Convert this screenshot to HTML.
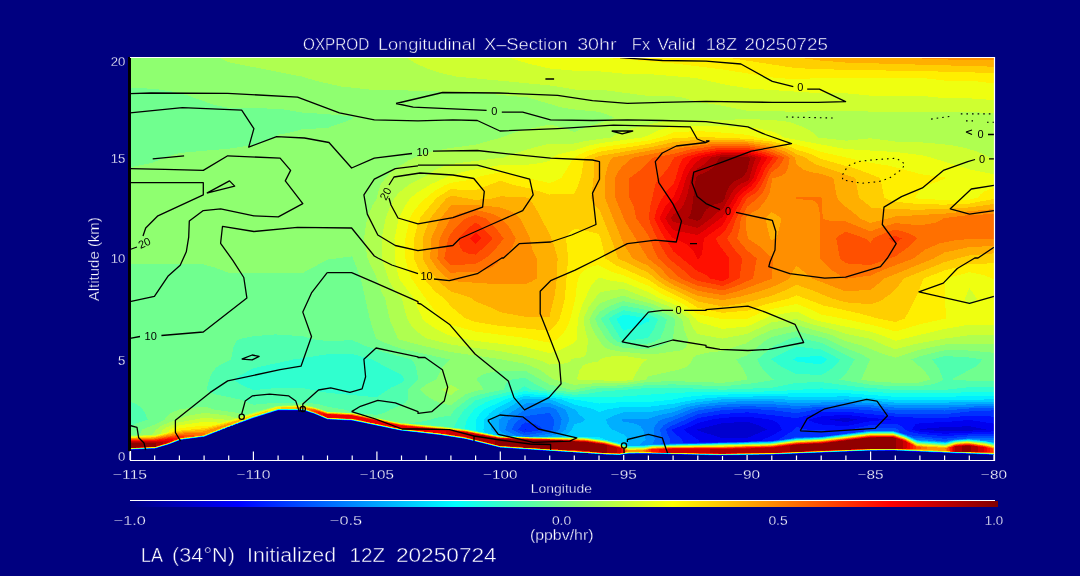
<!DOCTYPE html>
<html><head><meta charset="utf-8"><title>OXPROD Longitudinal X-Section</title>
<style>
html,body{margin:0;padding:0;background:#000080;}
body{width:1080px;height:576px;overflow:hidden;}
svg{display:block;}
text{fill:#fff;stroke:#000080;font-family:'Liberation Sans',sans-serif;}
.cl text{fill:#000;stroke:none;}
</style></head>
<body>
<svg width="1080" height="576" viewBox="0 0 1080 576">
<defs>
<clipPath id="pc"><rect x="130" y="57" width="864" height="403"/></clipPath>
<linearGradient id="cb" x1="0" x2="1" y1="0" y2="0"><stop offset="0" stop-color="#000080"/><stop offset="0.125" stop-color="#0000ff"/><stop offset="0.375" stop-color="#00ffff"/><stop offset="0.5" stop-color="#80ff80"/><stop offset="0.625" stop-color="#ffff00"/><stop offset="0.875" stop-color="#ff0000"/><stop offset="1" stop-color="#800000"/></linearGradient>
</defs>
<rect width="1080" height="576" fill="#000080"/>
<path d="M130.0 460V451.5M154.7 460V455.5M179.4 460V455.5M204.1 460V455.5M228.7 460V455.5M253.4 460V451.5M278.1 460V455.5M302.8 460V455.5M327.5 460V455.5M352.2 460V455.5M376.9 460V451.5M401.5 460V455.5M426.2 460V455.5M450.9 460V455.5M475.6 460V455.5M500.3 460V451.5M525.0 460V455.5M549.7 460V455.5M574.3 460V455.5M599.0 460V455.5M623.7 460V451.5M648.4 460V455.5M673.1 460V455.5M697.8 460V455.5M722.5 460V455.5M747.1 460V451.5M771.8 460V455.5M796.5 460V455.5M821.2 460V455.5M845.9 460V455.5M870.6 460V451.5M895.3 460V455.5M919.9 460V455.5M944.6 460V455.5M969.3 460V455.5M994.0 460V451.5" fill="none" stroke="#fff" stroke-width="1.2"/>
<g clip-path="url(#pc)" shape-rendering="crispEdges">
<path fill="#000090" d="M130.5 57.5 993.5 57.5 993.5 455.2 949.5 453.5 892.5 450.9 864.5 451.2 772.5 455 719.5 455.9 643.5 454 628.5 454.2 619.5 455.4 603.5 455 584.5 453.2 524.5 449.9 499.5 448 465.5 439.4 439.5 435.4 400.5 431 353.5 421.1 327.5 419.9 314.5 414.2 302.5 410.7 277.5 410.9 251.5 419.2 228.5 427.5 204.5 437.2 180.5 440.3 169.5 444.7 155.5 449 130.5 450.1Z"/>
<path fill="#0000b0" d="M130.5 57.5 993.5 57.5 993.5 455.1 950.5 453.5 892.5 450.8 864.5 451.1 771.5 455 719.5 455.8 643.5 453.9 628.5 454.1 619.5 455.3 604.5 454.9 584.5 453.2 525.5 449.8 499.5 447.9 465.5 439.3 439.5 435.3 400.5 430.9 353.5 421.1 327.5 419.8 314.5 414.2 302.5 410.6 277.5 410.7 251.5 419.1 228.5 427.4 204.5 437.1 180.5 440.3 168.5 444.9 155.5 448.9 130.5 450Z"/>
<path fill="#0000cf" d="M130.5 57.5 993.5 57.5 993.5 455 949.5 453.4 892.5 450.7 864.5 451 771.5 454.9 719.5 455.6 643.5 453.8 628.5 454 619.5 455.3 604.5 454.9 584.5 453.1 526.5 449.8 499.5 447.8 465.5 439.2 439.5 435.2 400.5 430.8 353.5 421 327.5 419.7 314.5 414.1 302.5 410.5 277.5 410.6 251.5 419 228.5 427.3 204.5 437 180.5 440.2 168.5 444.8 155.5 448.7 130.5 449.9ZM722.5 429.4 746.5 429.8Z"/>
<path fill="#0000ef" d="M130.5 57.5 993.5 57.5 993.5 454.9 949.5 453.3 892.5 450.6 864.5 451 771.5 454.8 719.5 455.5 643.5 453.7 628.5 453.9 619.5 455.2 526.5 449.7 499.5 447.7 465.5 439.1 439.5 435.1 400.5 430.7 352.5 420.8 327.5 419.5 314.5 414 302.5 410.4 277.5 410.5 253.5 418.2 228.5 427.2 204.5 436.9 180.5 440.1 168.5 444.7 154.5 448.8 130.5 449.8ZM733.5 422.5 722.5 423.1 697.1 429.5 698.5 430.9 721.5 437.8 730.5 438.1 747.5 437.9 767 429.5 758.5 425.4 747.5 421.6ZM839.5 418.5 829.9 419.5 838.5 421.3 847.5 421.8 857.2 419.5 846.5 418ZM961.5 426.5 944.5 427 920.5 429.1 919.7 429.5 920.5 429.7 944.5 431.2 969.5 430.8 985.8 429.5 969.5 426.2Z"/>
<path fill="#0010ff" d="M130.5 57.5 993.5 57.5 993.5 423.6 969.5 419.9 944.5 422.2 920.5 422.9 915.5 424.5 913.6 426.5 912.3 429.5 919.5 431.8 944.5 433.7 976.5 432.3 993.5 431.4 993.5 454.8 892.5 450.5 864.5 450.9 770.5 454.7 719.5 455.4 643.5 453.6 628.5 453.8 619.5 455.1 605.5 454.7 500.5 447.7 465.5 439.1 439.5 435.1 400.5 430.6 351.5 420.5 327.5 419.4 314.5 413.9 303.5 410.4 278.5 410.2 252.5 418.4 228.5 427.1 204.5 436.8 180.5 440 169.5 444.3 154.5 448.7 130.5 449.7ZM746.5 416.5 722.5 417.9 712.2 419.5 697.5 423.1 684.4 429.5 684.6 430.5 687.5 432.8 697.6 439.5 698.6 440.5 698.6 442.5 718.5 441.9 747.5 441.5 762 440.5 762.9 439.5 771.5 436 780.6 430.5 781.7 429.5 779.5 425.4 776.7 422.5 773 420.5 768.5 419.3ZM833.5 415.5 821.5 416.4 808.7 419.5 809.4 420.5 812.5 421.9 820.5 424.4 845.5 426.3 863.5 422.5 870.5 421.3 890.7 419.5 870.5 417.9 846.5 414.8Z"/>
<path fill="#0030ff" d="M130.5 57.5 993.5 57.5 993.5 416.6 969.5 415.6 944.5 417.9 919.5 417.8 894.5 416.6 845.5 411.6 821.5 412.2 796.5 418.1 747.5 412.3 722.5 414 697.5 418 683.5 425 672.5 429.4 672.4 430.5 673.5 432.3 682.3 439.5 682.8 442.5 706.5 442.8 741.5 441.9 773.5 440.6 778.7 439.5 793.4 430.5 796.5 426.7 803.5 429.1 814.5 430.3 845.5 430.9 870.5 424.8 895.5 423.8 901.5 425.9 905.1 429.5 908.5 431.5 919.5 433.8 944.5 436.2 967.6 434.5 993.5 433.5 993.5 454.7 892.5 450.4 864.5 450.8 771.5 454.6 719.5 455.4 643.5 453.5 628.5 453.7 619.5 455 605.5 454.6 500.5 447.7 465.5 439 439.5 435 400.5 430.5 352.1 420.5 327.5 419.4 314.5 413.8 303.5 410.3 278.5 410.1 252.5 418.3 228.5 427 204.5 436.7 180.5 439.9 169.5 444.2 154.5 448.6 130.5 449.6ZM524.5 429.2 524.5 429.7 526.5 429.6 525.5 428.9Z"/>
<path fill="#0050ff" d="M130.5 57.5 993.5 57.5 993.5 410.4 969.5 411.4 944.5 414.2 920.5 414.2 895.5 413.5 870.5 410.1 845.5 408.8 818.5 409.1 796.5 413.2 771.5 410.1 747.5 408.7 722.5 410.1 697.5 414.3 670.1 426.5 666.1 429.5 666.1 430.5 670 439.5 669.9 443.5 733.5 442.4 773.5 440.9 790.8 438.5 796.5 436.5 822.5 436.5 824.5 435.8 831.1 435.5 862.6 431.5 865.1 429.5 870.5 428.3 894.5 428 897.9 429.5 900.2 432.5 908.5 435.1 944.5 438.8 969.5 436.2 993.5 435.6 993.5 454.7 892.5 450.3 869.5 450.6 769.5 454.6 719.5 455.3 643.5 453.4 628.5 453.6 619.5 455 500.5 447.6 465.5 438.9 439.5 434.9 401.5 430.6 352.5 420.5 327.5 419.3 314.5 413.7 303.5 410.2 278.5 410 252.5 418.2 228.5 426.9 204.5 436.6 180.5 439.8 169.5 444.1 154.5 448.6 130.5 449.5ZM525.5 422.4 522.4 424.5 517.9 429.5 524.5 432.6 533.5 431.3 542.9 429.5 542.1 428.5 539.5 426.2 535.8 424.5Z"/>
<path fill="#0070ff" d="M130.5 57.5 993.5 57.5 993.5 407.8 968.5 408.5 944.5 410.5 895.5 410.3 870.5 407.5 846.5 406.5 820.5 406.8 796.5 408.9 771.5 407.1 747.5 406.2 722.5 407.3 703.8 409.5 697.5 410.6 688.5 414 668.5 422.4 663.5 425.5 659.9 429.5 662.4 439.5 661.4 443.5 679.5 443.9 724.5 442.9 771.5 441.4 796.5 437.8 822.5 436.8 870.5 430.7 894.5 430.8 914.5 438.1 920.5 437.9 933.4 439.5 935.8 440.5 944.5 441.1 959.5 438.7 993.5 437.7 993.5 454.6 892.5 450.3 869.5 450.5 772.5 454.4 720.5 455.2 643.5 453.3 628.5 453.5 619.5 454.9 605.5 454.5 500.5 447.5 465.5 438.8 439.5 434.8 400.5 430.4 352.5 420.4 327.5 419.2 314.5 413.7 303.5 410.1 278.5 409.9 252.5 418.1 228.5 426.8 204.5 436.5 180.5 439.8 169.5 444 155.5 448.3 130.5 449.4ZM546.5 413.3 525.5 416.1 518.5 420.2 514.5 424.5 511.7 429.5 520.5 433.9 525.5 435.2 549.5 431.2 553.2 429.5 554 419.5 549.5 412.5Z"/>
<path fill="#008fff" d="M130.5 57.5 993.5 57.5 993.5 405.7 944.5 407.7 895.5 407.7 870.5 405.2 846.5 404.1 796.5 406 771.5 404.2 747.5 403.7 722.5 404.7 698.5 407.4 690.2 409.5 673.5 416.3 661.8 419.5 658.5 421.5 655.5 425.1 653.6 429.5 654.7 439.5 653 443.5 673.5 444.1 717.5 443.3 771.5 441.7 796.5 438.2 822.5 437.1 869.5 431.1 892.5 430.9 904.5 434.6 916.5 439.7 945.5 441.8 953.5 440 967.5 438.8 993.5 440.3 993.5 454.5 892.5 450.2 869.5 450.4 772.5 454.3 720.5 455.1 643.5 453.3 628.5 453.4 619.5 454.8 605.5 454.4 500.5 447.4 465.5 438.8 439.5 434.8 400.5 430.3 352.5 420.3 327.5 419.1 314.5 413.6 303.5 410 278.5 409.8 252.5 418 228.5 426.7 204.3 436.5 180.5 439.7 169.5 444 155.5 448.2 130.5 449.4ZM541.5 407.4 524.5 410.1 508.4 420.5 505.4 429.5 506.4 430.5 516.5 435.5 525.5 436.6 532.7 436.5 549.5 433.8 555.5 431.7 559.4 429.5 561.7 419.5 556.5 409.6 549.5 406.8Z"/>
<path fill="#00afff" d="M130.5 57.5 993.5 57.5 993.5 403.6 944.5 405.2 895.5 405.2 870.5 402.9 846.5 401.8 796.5 403.2 771.5 401.3 747.5 401.1 722.5 402 698.5 404.7 686.5 407.4 673.5 412.1 659.5 415.1 648.5 418.6 624.5 418.6 621.5 419.5 623.5 421.7 632.5 423.1 637.2 424.5 640.5 426.5 642.3 428.5 644.2 432.5 645.7 439.5 640 444.5 643.5 444.9 682.5 444.3 771.5 441.9 796.5 438.5 821.5 437.4 870.5 431.4 892.5 431.2 904.5 434.9 917.5 440.4 945.5 442.2 954.5 440.2 968.5 439.1 993.5 442.2 993.5 454.4 892.5 450.1 869.5 450.3 772.5 454.3 720.5 455.1 643.5 453.2 628.5 453.3 619.5 454.7 605.5 454.3 500.5 447.3 465.5 438.7 439.5 434.7 400.5 430.2 352.5 420.2 327.5 419.1 314.5 413.5 303.5 409.9 278.5 409.7 252.5 417.9 204 436.5 180.5 439.6 169.5 443.9 155.5 448.2 130.5 449.3ZM525.5 403.5 499.2 419.5 499 429.5 502.5 432.7 507.2 435.5 524.5 436.7 542.5 436.6 548.2 436.5 555.5 434.8 561.5 432.4 565.6 429.5 569.4 419.5 566.1 410.5 565.5 409.5 562.5 408.1 549.5 403.1Z"/>
<path fill="#00cfff" d="M130.5 57.5 993.5 57.5 993.5 401.5 944.5 402.6 895.5 402.6 870.5 400.5 846.5 399.4 821.5 400.4 797.5 400.3 771.5 398.6 747.5 398.6 722.5 399.4 697.5 402.1 684.5 404.6 672.5 408.1 648.5 412.3 623.5 412.4 613.9 415.5 605.9 419.5 607.7 424.5 611.5 429.2 623.5 434.4 630 439.5 624.8 444.5 628.5 445.6 643.5 445.7 652.5 444.7 668.5 444.7 771.5 442.2 796.5 438.8 821.5 437.7 869.5 431.8 892.5 431.5 904.5 435.2 917.5 440.9 945.5 442.6 955.5 440.3 968.5 439.4 984.5 441 993.5 442.7 993.5 454.3 892.5 450 869.5 450.3 772.5 454.2 720.5 455 643.5 453.1 628.5 453.2 619.5 454.7 605.5 454.2 500.5 447.3 465.5 438.6 439.5 434.6 400.5 430.2 352.5 420.2 327.5 419 314.5 413.4 303.5 409.9 278.5 409.6 252.5 417.8 203.6 436.5 180.5 439.5 169.5 443.8 155.5 448.1 130.5 449.2ZM522.5 399.3 500.5 412.2 491.4 419.5 491.2 429.5 491.8 430.5 496 434.5 499.5 435.5 524.5 436.8 554.5 436.6 561.6 436.5 566.4 434.5 571.2 430.5 574.5 424.4 581.5 422.2 585.5 419.5 580.3 415.5 574.9 409.5 553.2 400.5 549.5 399.4 525.5 398.6Z"/>
<path fill="#00efff" d="M130.5 57.5 993.5 57.5 993.5 399.2 969.5 400 895.5 400.1 845.5 396.2 820.5 397.1 771.5 396.2 722.5 397 698.5 399.1 672.5 403.9 648.5 406.8 621.5 407.1 606.6 409.5 599.5 412.2 592.5 408.9 574.5 404.6 561.9 399.5 549.5 397.5 524.5 396.2 513.3 399.5 494.6 409.5 489.5 413.5 483.7 419.5 483.5 429.5 484.3 431.5 484.8 432.5 487.5 432.7 488.3 433.5 499.5 435.7 524.5 436.9 543.5 437 584.5 436.5 598.5 437 605.2 439.5 607.5 439.6 608.4 440.5 611.5 440.7 612.4 441.5 619.5 442.9 627.5 445.8 643.5 446.1 652.5 445 722.5 444 771.5 442.5 796.5 439.1 821.5 438 869.5 432 892.5 431.8 904.5 435.5 917.5 441.3 945.5 443 955.5 440.6 968.5 439.7 984.5 441.3 993.5 443.1 993.5 454.2 892.5 450 869.5 450.2 772.5 454.1 720.5 454.9 643.5 453 628.5 453.1 619.5 454.6 605.5 454.2 500.5 447.2 465.5 438.5 439.5 434.5 400.5 430.1 352.5 420.1 327.5 418.9 314.5 413.3 303.5 409.8 278.5 409.5 252.5 417.7 228.5 426.5 204.5 436.2 180.5 439.4 169.5 443.7 155.5 448 130.5 449.2Z"/>
<path fill="#10ffef" d="M130.5 57.5 993.5 57.5 993.5 395.5 944.5 396.8 895.5 396.8 845.5 393.1 746.5 393.8 697.5 395.7 683.5 397.4 672.5 399.7 648.5 402 623.5 402 599.5 403.5 551.5 395.9 524.5 393.7 504.8 399.5 484.3 409.5 479.5 414.5 475.9 419.5 475.8 430.5 478.1 431.5 499.5 435.8 524.5 437 544.5 437.2 585.5 437.1 606.5 440.1 628.5 446.4 643.5 446.4 652.5 445.2 722.5 444.2 771.5 442.7 796.5 439.3 821.5 438.2 869.5 432.3 892.5 432.1 904.5 435.8 917.5 441.7 945.5 443.4 955.5 440.9 968.5 440 984.5 441.7 993.5 443.5 993.5 454.1 892.5 449.9 869.5 450.1 772.5 454 720.5 454.8 643.5 452.9 628.5 453 619.5 454.5 605.5 454.1 500.5 447.1 465.5 438.5 439.5 434.4 400.5 430 352.5 420 327.5 418.8 314.5 413.2 303.5 409.7 278.5 409.4 252.5 417.6 228.5 426.4 204.5 436.1 180.5 439.3 169.5 443.7 155.5 447.9 130.5 449.1Z"/>
<path fill="#30ffcf" d="M130.5 57.5 993.5 57.5 993.5 391.8 969.5 392.1 944.5 393.3 895.5 393.3 821.5 388.4 772.5 391.4 677.5 392.6 623.5 396.5 574.5 397.2 554.5 394.3 524.5 391.1 512.5 393.8 492.9 399.5 485.5 402.5 478.5 406.3 474.1 409.5 466.9 419.5 464.5 428.5 499.5 436 535.5 437.2 584.5 437.5 605.5 440.2 628.5 446.7 643.5 446.7 652.5 445.5 771.5 443 796.5 439.6 821.5 438.5 869.5 432.6 892.5 432.3 904.5 436.1 917.5 442 945.5 443.8 955.5 441.2 968.5 440.3 984.5 442 993.5 443.9 993.5 454.1 892.5 449.8 869.5 450 772.5 454 720.5 454.8 643.5 452.8 628.5 452.9 619.5 454.4 605.5 454 500.5 447.1 465.5 438.4 439.5 434.4 400.5 429.9 352.5 419.9 327.5 418.7 314.5 413.2 303.5 409.6 278.5 409.3 252.5 417.5 228.5 426.3 204.5 436 180.5 439.3 169.5 443.6 155.5 447.9 130.5 449ZM622.5 315.2 616.9 318.5 616.6 319.5 623.5 330.8 639.5 325.6 648.5 321.5 649.6 319.5 648.9 318.5 624.5 314.7ZM809.5 356.5 796.5 357.4 793.1 359.5 796.5 361.4 811.5 363.4 821.5 364.2 827.3 359.5 821.5 356.1Z"/>
<path fill="#50ffaf" d="M130.5 57.5 993.5 57.5 993.5 387.1 969.5 387.1 944.5 389.9 895.5 389.9 861.5 387.3 820.5 382.1 796.5 382.8 771.5 387.8 722.5 389.7 673.5 387.7 648.5 387.9 599.5 391.7 589.3 393.5 574.5 394.8 530.9 389.5 524.5 386.3 519.1 389.5 485.5 397.3 475.5 400.5 464.5 409.5 457.8 419.5 453.7 427.5 465.5 429.1 499.5 436.1 515.5 436.9 585.5 437.8 605.5 440.6 619.5 444.1 628.5 447.1 643.5 447.1 652.5 445.8 771.5 443.3 796.5 439.9 821.5 438.8 869.5 432.9 892.5 432.6 904.5 436.3 917.5 442.4 945.5 444.2 955.5 441.5 968.5 440.5 984.5 442.4 993.5 444.3 993.5 454 892.5 449.8 869.5 450 772.5 453.9 720.5 454.7 643.5 452.7 628.5 452.9 619.5 454.4 605.5 454 500.5 447 465.5 438.3 439.5 434.3 400.5 429.8 352.5 419.9 327.5 418.7 314.5 413.1 303.5 409.5 278.5 409.2 252.5 417.4 228.5 426.2 204.5 435.9 180.5 439.2 169.5 443.5 155.5 447.8 130.5 448.9ZM326.5 354.4 293.4 359.5 253.5 368.2 233 379.5 243.5 386.1 253.5 390.1 278.5 387.8 302.5 388.1 314.8 390.5 327.5 392.8 376.5 397.3 391.5 387.5 401.5 382.8 404.4 379.5 401.5 374.9 371.8 359.5 352.5 354.1ZM623.5 310.2 613.5 315.3 609.1 318.5 608.9 319.5 620.6 338.5 624.5 340.5 642.5 338.9 648.5 337.3 653.6 329.5 658.2 319.5 657.5 318.5 648.5 314.4ZM796.5 346.4 772.5 358.3 771.3 359.5 782.5 367.4 796.5 374 814.5 374.7 821.5 374.8 826.5 372.2 834.3 366.5 840.2 359.5 821.5 349.5Z"/>
<path fill="#70ff8f" d="M130.5 57.5 993.5 57.5 993.5 380.8 969.5 380.8 952.6 379.5 953.4 378.5 975.5 366.7 979.2 363.5 982.2 359.5 969.5 357.5 944.5 356 932.2 359.5 938.8 368.5 943.3 379.5 938.5 382.4 932.5 384.3 919.5 386.2 894.5 386.3 870.5 384.7 839.5 379.5 846.5 372.8 854.6 359.5 821.5 342.9 796.5 337.1 787.8 339.5 772.5 346.9 757.2 359.5 760.5 365.8 764.5 371.4 769.5 376.4 773.9 379.5 767.5 381 753.5 383.3 722.5 386.3 673.5 384.4 648.5 384.9 623.5 387.5 598.5 388.1 574.5 392.3 546.3 389.5 537.5 385.3 524.5 377.7 511.7 379.5 509.6 380.5 506.3 383.5 503.7 389.5 478.5 394.8 471 397.5 467.6 399.5 454.8 409.5 450.7 415.5 438.5 417.4 426.5 420.7 409.4 423.5 418.5 423.6 420.1 424.5 428.5 424.7 431.1 425.5 448.5 426.9 469.5 430.2 500.5 436.4 525.5 437.4 585.5 438 605.5 440.8 619.5 444.3 628.5 447.5 643.5 447.4 652.5 446 771.5 443.5 796.5 440.2 821.5 439.1 869.5 433.2 892.5 432.9 904.5 436.6 917.5 442.8 945.5 444.6 955.5 441.8 968.5 440.8 984.5 442.7 993.5 444.7 993.5 453.9 892.5 449.7 869.5 449.9 772.5 453.8 720.5 454.6 643.5 452.6 628.5 452.8 619.5 454.3 605.5 453.9 500.5 446.9 465.5 438.2 439.5 434.2 400.5 429.8 352.5 419.8 327.5 418.6 314.5 413 303.5 409.4 278.5 409.1 252.5 417.3 204.5 435.8 180.5 439.1 169.5 443.4 155.5 447.7 130.5 448.9 130.5 426.6 137.5 422.9 147.6 419.5 144.9 412.5 141.5 407.9 137 404.5 130.5 401.8ZM275.5 334.4 253.5 336.2 241.7 338.5 237.5 340.3 235.5 342.7 233.7 346.5 230.9 359.5 219.5 365 215.5 368.3 212.3 372.5 209.1 379.5 206.7 389.5 207.5 390.4 210.5 392.6 214.5 394.2 240.2 399.5 253.5 404.8 263.5 403.6 304.5 402.4 319.5 404.3 327.5 406.8 344.4 409.5 350.5 412 361.5 413.7 377.5 414.8 385.2 412.5 390.2 409.5 402.5 404.5 405.6 402.5 408 399.5 408.3 389.5 418.4 379.5 416.1 367.5 413.8 362.5 411.5 359.5 382.5 351.8 364.5 345.7 352.5 340.2 327.5 341.1 314.9 339.5 302.5 336.2ZM621.5 306.3 610.3 311.5 601.2 318.5 601.1 319.5 613.3 338.5 617.3 341.5 623.5 344.3 646.5 343.8 653.5 342.1 660.2 338.5 664 329.5 666.9 319.5 663.5 317.2 648.5 310.4 624.5 305.8Z"/>
<path fill="#8fff70" d="M130.5 57.5 993.5 57.5 993.5 352.7 968.5 350.5 944.5 350.3 936.5 352 919.5 356.4 911.4 359.5 923.1 369.5 927.5 374.7 930.3 379.5 919.5 382.5 895.5 382.8 870.5 381.2 861.3 379.5 870.1 359.5 869 358.5 859.9 353.5 845.5 348 826 338.5 796.5 331.1 771.5 337.1 766.8 339.5 747.5 355.2 736.1 359.5 742 367.5 746.5 376.2 747.3 379.5 735.5 381.3 722.5 382.8 673.5 381.1 648.5 381.9 623.5 385.4 595.5 385.9 585.5 387.3 574.5 389.9 569.8 389.5 549.5 384.5 525.5 370.9 497.5 370.9 484.5 373.8 480.5 375.8 477.2 378.5 476.5 379.5 480.5 384.5 483.1 389.5 472.5 391.8 465.5 394.4 450.5 405.3 441.5 403.3 434.5 400.6 425.5 395.3 420.2 389.5 426.5 384 436 379.5 442.4 367.5 449.6 359.5 401.5 348.7 385.5 343.1 375.9 338.5 369.9 319.5 360.8 278.5 352.5 257.2 351.5 256.4 327.5 259.6 302.5 273.1 229.5 273.1 214.6 267.5 203.5 264.4 130.5 264.4 130.5 167.2 151.5 162.9 169.5 156 179.5 153 229.9 148.5 253.5 145 266.5 140.9 278.5 134.7 291.5 132.2 302.5 129.2 327.5 127.9 351.5 119.4 353.5 117.5 351.5 116.7 336.5 114.9 302.5 112.5 278.5 108.7 228.5 107.9 213.5 104.7 187.9 95.5 173.5 91.8 154.5 88.8 130.5 87.8ZM622.5 301.4 609.5 305.9 599.5 312.1 595 318.5 597.5 325.1 606.6 339.5 609.8 342.5 614.5 345.2 623.5 348.1 647.5 349 654.5 347.8 662.1 345.5 667.5 343 672.3 339.5 673.9 332.5 675.1 319.5 673.5 317.9 667 314.5 648.5 306.5 624.5 301.3ZM282.4 405.5 304.5 404.8 314.5 406.8 327.5 411.7 353.5 412.9 399.5 422.7 437.5 426.1 462.5 429.2 499.9 436.5 525.5 437.5 585.5 438.3 605.5 441.1 619.5 444.6 628.5 447.9 643.5 447.7 652.5 446.3 771.5 443.8 796.5 440.5 821.5 439.3 869.5 433.4 892.5 433.2 904.5 436.9 917.5 443.2 945.5 445 955.5 442.1 967.5 441.1 985.5 443.2 993.5 445.1 993.5 453.8 892.5 449.6 869.5 449.8 813.5 452.1 771.5 453.8 720.5 454.5 628.5 452.7 619.5 454.2 604.5 453.8 500.5 446.8 465.5 438.2 439.5 434.1 400.5 429.7 352.5 419.7 327.5 418.5 314.5 412.9 303.5 409.2 278.5 409 252.5 417.2 203.5 436 180.5 439 169.5 443.3 155.5 447.6 130.5 448.8 130.5 435.5 139.7 434.5 142.4 429.5 154.5 424.6 164.7 419.5 167.5 415.8 170.5 413.3 179.5 409.2 204.5 406.6 214.5 409.5 236.5 412.8 243.5 415.2 275.5 406Z"/>
<path fill="#afff50" d="M218.3 57.5 993.5 57.5 993.5 344.3 969.5 343.5 944.5 344.5 918.5 350 895.5 357.7 881.5 353.4 861.5 345.4 845.5 341.1 829.5 334.2 796.5 325.1 771.5 329.7 753.1 338.5 746.5 343.2 732.5 347.7 722.5 351 707.5 352.7 696.5 355.3 693.5 357.5 689.4 364.5 685.3 367.5 679.5 369.4 648.5 376.3 645.7 379.5 623.5 383.2 598.5 383 574.5 384.8 553.8 379.5 539.2 369.5 525.5 363.8 496 358.5 450.5 352 420.5 345.2 399.3 339.5 397.5 337.5 390 320.5 385.1 298.5 381.4 291.5 376.5 277.6 367.6 258.5 364 238.5 366.4 222.5 369.5 212 372.5 205.5 376.5 199.3 378.8 189.5 381.1 183.5 389.5 173.4 395.3 168.5 408.5 160.5 421.5 154.8 432.5 151.4 446.5 148.6 475.5 144.6 501.5 137.5 516.5 131.8 549.5 124.5 562.6 127.5 574.5 132.2 585.5 127.2 598.5 123.4 614.5 117.5 599.5 111.8 573.5 109.4 562.5 107.7 527.7 97.5 475.5 92.6 401.5 90.3 376.5 90.3 341.5 86.5 317.5 81.2 301.6 76.5 229.5 62.4ZM620.5 296.3 606.5 300.7 599.5 303.8 593.5 310.9 589.2 319.5 591.8 327.5 595.3 334.5 602.5 345.3 605.5 347.7 609.6 349.5 619.5 351.5 648.5 354.3 656.5 353.8 680 350.5 683.5 349.3 685.7 347.5 687.1 344.5 688.1 339.5 684.5 330.8 682.2 319.5 672.5 312.6 652.5 304 631.4 298.5 623.5 295.6ZM449.5 385.5 451.5 384.9 458.7 389.5 454.5 391.8 450.6 395.5 441.5 389.5ZM292.7 405.5 303.5 405.2 313.5 407.2 327.5 411.9 352.5 413 399.5 422.9 444.5 427.2 465.5 429.9 499.5 436.6 525.5 437.7 585.5 438.5 605.5 441.3 619.5 444.8 628.5 448.2 643.5 448 652.5 446.5 771.5 444.1 796.5 440.7 821.5 439.6 869.5 433.7 892.5 433.5 904.5 437.2 917.5 443.6 945.5 445.4 955.5 442.4 967.5 441.4 985.5 443.5 993.5 445.4 993.5 453.7 892.5 449.5 869.5 449.8 805.5 452.4 771.5 453.7 720.5 454.5 643.5 452.4 628.5 452.6 619.5 454.1 604.5 453.7 500.5 446.8 465.5 438.1 439.5 434.1 400.5 429.6 352.5 419.6 327.5 418.4 314.5 412.8 302.5 409 277.5 409 249.5 418.1 204.5 435.6 180.5 438.9 169.5 443.3 155.5 447.6 130.5 448.7 130.5 435.9 152.2 434.5 156.2 429.5 162.5 425.1 186.5 416 204.5 412.8 228.5 415.7 234.5 417.6 237.5 417.6 277.5 406.1Z"/>
<path fill="#cfff30" d="M406.3 57.5 993.5 57.5 993.5 112.7 992.5 112.7 919.5 111.6 870.5 111.6 845.5 110.7 821.5 110.7 796.5 112.1 771.5 110.8 747.5 110.8 722.5 105.7 700.5 102.4 681.8 97.5 673.5 96.2 648.5 96 599.5 89.5 574.5 89.5 550.5 85.5 455.9 76.5 440.5 72.9 427 68.5 415.9 63.5ZM734.7 119.5 747.5 119.1 771.5 119.9 789.5 121.9 805.5 127.9 812.5 132.2 818.4 137.5 821.5 137.9 846.5 140.7 870.5 138.3 895.5 141.5 925.5 142.6 951.5 145.2 962.5 147.3 975.5 151 983.5 154.1 989.6 157.5 993.5 158.5 993.5 335.2 969.5 335.2 944.5 338.6 916.5 343.7 895.5 349.3 884.5 345.3 870.5 338.8 846.5 334.1 835.5 330.2 813.5 324.6 796.5 319.1 771.5 322.3 747.5 333.8 722.5 338.6 697.5 334.1 693.3 328.5 688.6 318.5 681.5 313.4 668.5 306.2 637.8 294.5 623.5 288.9 606.5 290.9 600.2 292.5 598.5 293.7 588.5 307.5 583.6 318.5 585 329.5 587.9 339.5 587.2 349.5 586 354.5 584.5 356.3 582.5 357.3 574.5 358.4 571.5 359.5 569.5 361.9 565.5 363.4 549.5 364.5 540.5 360.5 524.5 355.8 500.5 351.3 451.5 344.7 426.7 338.5 416.5 331.4 412 326.5 408.5 321.2 405.9 314.5 401.9 298.5 394.9 290.5 389.4 281.5 381.7 258.5 381.7 238.5 385.7 218.5 389.5 207.9 394 198.5 399.5 192.1 409.5 184.3 423.5 177.5 436.5 169 450.5 164 503.6 157.5 525.5 149.9 549.5 143.5 574.5 143.5 586.5 140.8 610.7 137.5 621.5 131.8 629.5 128.9 665.5 120.8 673.5 119.8ZM611.3 356.5 624.5 355.9 646.7 359.5 642.5 363.2 639.1 367.5 632.8 379.5 623.5 381 613.5 380.8 582.5 379.8 578.1 379.5 577.2 378.5 579.5 369.9 583.5 365.2 589.5 362.9 598.5 361.5 600.5 359.3 603.5 357.8ZM277.7 406.5 303.5 405.6 314.5 407.8 327.5 412.1 352.5 413.3 401.5 423.5 439.5 426.9 465.5 430.1 500.5 436.9 585.5 438.7 605.5 441.6 619.5 445.1 628.5 448.6 643.5 448.4 652.5 446.8 771.5 444.4 796.5 441 821.5 439.9 869.5 434 892.5 433.7 904.5 437.5 917.5 444 945.5 445.8 955.5 442.7 967.5 441.7 985.5 443.9 993.5 445.8 993.5 453.6 892.5 449.5 869.5 449.7 824.5 451.5 772.5 453.6 720.5 454.4 673.5 453.6 643.5 452.3 628.5 452.5 619.5 454.1 604.5 453.6 500.5 446.7 465.5 438 439.5 434 400.5 429.5 352.5 419.5 327.5 418.4 314.5 412.7 303.5 409 278.5 408.8 249.5 418 203.5 435.8 180.5 438.8 169.5 443.2 155.5 447.5 130.5 448.6 130.5 436.4 157.3 434.5 160.7 433.5 163 429.5 165.5 427.9 178.5 422.5 204.5 417.7 227.5 419.8 231.5 419.6Z"/>
<path fill="#efff10" d="M508.8 57.5 993.5 57.5 993.5 100.1 969.5 98.3 944.5 98.2 919.5 95.6 870.5 95.6 845.5 93.3 820.5 93.3 749.5 88.5 726.5 84.9 697.5 78.5 690 77.5 648.5 74 623.5 73.6 599.5 71.4 574.5 70.7 549.8 68.5 527.8 63.5ZM691.3 125.5 746.5 127 757.9 128.5 772.5 131.6 778.5 134.2 783.8 137.5 845.5 149 895.5 152 920.5 155 930.7 157.5 969.5 169.3 993.5 174.2 993.5 324.7 968.5 324.8 943.5 329.1 895.5 340.9 882.3 335.5 870.5 331.7 819.5 321.2 811.5 318.5 796.5 311.5 771.5 315.5 747.5 326.4 722.5 328.9 698.5 322.1 695.7 318.5 690.7 314.5 676.5 305.4 659.5 298.2 648.5 292.2 624.5 282.6 609.5 280.4 599.5 277.7 595.5 280.3 590.7 286.5 581.1 307.5 578 318.5 576.6 339.5 573.5 343.2 561.5 349.2 549.5 353.2 524.5 346.8 475.5 340.8 452.5 336.6 444.5 333.4 434.5 328.1 426.5 322.7 422.5 318.5 418.1 309.5 413.8 298.5 399 278.5 394.5 258.5 394.5 238.5 398.6 218.5 404.6 206.5 410 198.5 417.5 192.4 431.5 183.9 451.5 175.1 469.2 170.5 499.5 165.2 525.5 164.9 542.5 162.8 549.5 160.7 552.1 157.5 558.5 154.4 574.5 150.5 588.8 145.5 599.5 143.3 641.7 137.5 648.5 135.2 659.5 130 672.5 126.2ZM969.5 288.4 964.6 298.5 966.5 301.8 969.5 305.1 971.5 303.8 975.5 300.6 976.9 298.5ZM286.6 406.5 303.5 406 314.5 408 327.5 412.4 352.5 413.6 400.5 423.6 439.5 427.1 465.5 430.2 500.5 437 585.5 439 605.5 441.8 619.5 445.4 628.5 449 643.5 448.7 652.5 447.1 771.5 444.6 796.5 441.3 821.5 440.1 869.5 434.3 892.5 434 904.5 437.8 917.5 444.4 945.5 446.2 955.5 443 967.5 442 985.5 444.2 993.5 446.2 993.5 453.5 892.5 449.4 869.5 449.6 816.5 451.8 771.5 453.6 720.5 454.3 629.5 452.3 619.5 454 604.5 453.5 500.5 446.6 465.5 437.9 439.5 433.9 400.8 429.5 352.5 419.5 327.5 418.3 314.5 412.7 303.5 408.9 278.5 408.7 251.5 417.1 204.3 435.5 180.5 438.8 169.5 443.1 155.1 447.5 130.5 448.6 130.5 436.8 155.5 435.5 166.8 432.5 168.7 431.5 169.8 429.5 179.5 425.2 203.5 421.9 221.5 422.7 240.5 418 277.5 406.9Z"/>
<path fill="#ffef00" d="M600.3 57.5 993.5 57.5 993.5 83.3 991.5 83.1 969.5 80.5 944.5 80.5 919.5 77.6 821.5 77.6 796.5 79.5 771.5 77.4 722.5 69.4 673.5 63.4ZM688.7 131.5 698.5 131.1 731.5 133.2 747.5 134.9 757.5 137.5 778.5 139.8 809.5 147.9 821.5 152 870.5 162.9 889.5 165.7 920.5 174.1 944.6 177.5 945.3 178.5 944.5 179.1 931.5 183.6 920.5 189.3 915.1 197.5 917.9 198.5 944.5 200.1 969.5 199.7 978.4 197.5 980.5 194.5 984 191.5 993.5 187.8 993.5 279.2 984.5 275.3 969.5 272.2 946 278.5 945.4 279.5 945.1 298.5 946 318.5 920.5 324.1 895.5 331.5 876.5 326 845.5 319.1 821.5 314.6 809.5 308.9 796.5 303.9 771.5 309.1 759.5 313.4 746.5 319.1 722.5 319.3 703.5 315.3 697.5 313.9 683.5 304.2 660.5 293.2 648.5 285.9 623.5 275.4 610.5 271.3 598.5 265 591.5 266.7 586.5 268.8 582.5 271.8 579 276.5 577 283.5 575.2 299.5 569.5 321.5 566.9 327.5 563.9 332.5 560.4 336.5 556.5 339.5 549.5 342.7 524.5 337.8 475.5 331.6 451.5 324.9 440.8 318.5 426.5 299.8 411.4 278.5 408.1 269.5 405.4 258.5 405.4 238.5 409.9 217.5 415.7 208.5 423 200.5 433.7 191.5 444.5 185.4 450.5 182.9 465.9 180.5 482.5 175.9 500.5 172.1 514.7 174.5 525.5 177.7 549.5 183 556.5 180.5 561.6 177.5 573.3 158.5 579.5 154.5 587.5 151 599.5 147.5 648.5 140.4 660.5 137.5 673.5 132.4ZM299.8 406.5 303.5 406.5 314.5 408.3 327.5 412.6 352.5 413.8 400.5 423.8 465.5 430.4 499.5 437 585.5 439.2 605.5 442.1 619.5 445.6 628.5 449.3 643.5 449 652.5 447.3 771.5 444.9 796.5 441.6 821.5 440.4 869.5 434.5 892.5 434.3 904.5 438.1 917.5 444.8 945.5 446.6 955.5 443.3 967.5 442.3 985.2 444.5 993.5 446.6 993.5 453.4 892.5 449.3 869.5 449.5 804.5 452.2 771.5 453.5 720.5 454.2 628.5 452.1 619.5 453.9 605.1 453.5 500.5 446.5 465.5 437.8 439.5 433.8 401.3 429.5 352.5 419.4 327.5 418.2 313.5 412.2 303.5 408.8 278.5 408.6 275.5 409 251.5 416.9 204 435.5 180.5 438.7 169.5 443 154.7 447.5 130.5 448.5 130.5 437.2 155.5 436.1 173.3 431.5 179.5 428.2 203.5 425.6 209.5 425.9 215.5 425 239.5 418.8 277.5 407.3Z"/>
<path fill="#ffcf00" d="M726.5 57.5 993.5 57.5 993.5 73 919.5 71 845.5 69.9 796.5 68.2ZM687.7 137.5 697.5 136.8 747.5 138.8 771.5 141.4 784.5 144.5 796.5 149.6 811.5 154.3 821.5 159.1 856.5 168.9 879.1 177.5 880.2 178.5 881.1 181.5 884.3 197.5 887.8 199.5 895.5 201.7 919.5 204.2 944.5 204.6 969.5 203.6 993.5 199 993.5 263.4 969.5 263.8 944.5 270.5 923.6 278.5 918.1 292.5 905 318.5 895.5 321.9 878.1 318.5 858.5 313.2 823.5 305.5 796.5 295.3 788.7 298.5 763.5 305 747.5 310.6 722.5 312.8 697.5 307.6 685.5 300.1 659.9 287.5 648.5 279.7 616.5 265.5 605.4 258.5 600.8 238.5 598.5 233.8 587.5 231 574.5 228.8 569.5 232.7 566 238.5 568.2 258.5 564.7 299.5 559.5 319.3 555.9 324.5 551.5 329.3 549.5 330.9 500.5 326 475.5 321.9 465.6 318.5 451.5 307 445.5 299.5 435.1 291.5 427.1 282.5 419.5 271.2 414 258.5 414 238.5 417.7 224.5 420.5 217.2 436.9 197.5 450.5 189.3 475.5 190.1 500.5 180.7 510.5 184.2 530.5 188.7 549.5 194.5 573.5 193.5 574.5 193.1 575.4 191.5 579.2 182.5 581.4 174.5 584.2 158.5 586.5 156.6 599.5 151.7 648.5 144 673.5 138.2ZM280.7 407.5 302.5 406.9 306.5 407.3 315.5 408.8 327.5 412.8 352.5 414 400.5 424 465.5 430.6 500.5 437.3 585.5 439.5 605.5 442.3 619.5 445.9 628.5 449.7 643.5 449.3 651.5 447.7 660.5 447.3 720.5 446.6 771.5 445.2 796.5 441.9 821.5 440.7 870.5 434.8 893.5 434.7 905.5 438.8 917.5 445.2 945.5 447 955.5 443.6 967.5 442.6 988.5 445.7 993.5 447 993.5 453.3 892.5 449.3 869.5 449.5 772.5 453.4 720.5 454.2 657.5 452.9 643.5 451.9 628.5 451.9 619.5 453.8 605.5 453.4 500.5 446.5 462.5 437.3 439.5 433.7 401.8 429.5 352.5 419.3 327.5 418.1 304.5 408.8 280.7 408.5ZM272.5 409.5 272.6 409.5ZM268.4 410.5 271.5 410.5 269.5 410.5 265.6 412.5 263.5 412.6 262.3 413.5 253.5 415.9 203.6 435.5 180.5 438.6 169.5 443 155.5 447.3 134.5 448.3 130.5 448.4 130.5 437.7 154.5 436.8 179.5 430.7 206.5 428 236.5 420.3 265.5 411.4 267.5 411.3Z"/>
<path fill="#ffaf00" d="M797.7 57.5 993.5 57.5 993.5 66.7 846.5 62.6 820.5 60.5ZM689.8 140.5 722.5 139.8 747.5 140.6 769.5 143.6 783.5 147.5 790.5 150.5 796.5 154.3 805.5 157.5 810.7 161.5 816.5 164.7 854.3 177.5 855.4 178.5 858.9 197.5 871.5 207.6 883.5 208.8 916.5 209.7 944.5 209.1 969.5 207.4 993.5 204 993.5 253.4 969.5 255.4 962.5 257.1 944.5 262.1 906.2 277.5 903.8 278.5 897.5 286.9 890.9 293.5 882.7 299.5 877.5 302.1 870.5 304.2 845.5 302.3 832 298.5 811.5 290 796.5 284.8 783.5 291.1 770.5 296.1 746.5 302.5 722.5 306.5 697.5 301.3 665.4 285.5 656.1 279.5 648.5 272.8 618.2 258.5 611.1 238.5 599.5 210 594.2 204.5 591 198.5 593.5 178.5 594.6 158.5 595.2 157.5 599.5 155.9 648.5 147.6 673.5 142.2ZM451.2 195.5 475.5 199.9 491.7 198.5 500.5 196.4 524.5 197 528.7 198.5 534.5 205.9 549.9 234.5 554.5 247.1 557.6 258.5 556.9 278.5 554.8 294.5 549.5 316.7 534.5 316.7 524.5 316.6 500.5 312.3 488.5 306.5 475.5 301.4 471.7 298.5 467.5 296.5 450.5 291.3 440.5 283.1 429.5 270.7 422.6 258.5 422.8 237.5 429.9 218.5 446.2 198.5ZM296.3 407.5 303.5 407.3 314.5 408.9 327.5 413 352.5 414.2 400.5 424.2 465.5 430.8 500.5 437.4 585.5 439.7 605.5 442.6 619.5 446.1 628.5 450 643.5 449.7 652.5 447.8 668.5 447.3 720.5 446.9 771.5 445.4 796.5 442.2 821.5 441 870.5 435 893.5 435 905.5 439.1 917.5 445.6 930.5 446.8 945.5 447.4 955.5 443.9 967.5 442.9 988.5 446 993.5 447.4 993.5 453.1 955.5 452.1 942.5 450.8 892.5 449.2 869.5 449.4 772.5 453.3 720.5 454.1 652.5 452.6 643.5 451.8 628.5 451.7 619.5 453.8 604.5 453.3 500.5 446.4 463.5 437.3 436.5 433.3 399.5 429 352.5 419.2 327.5 418 304.5 408.7 296.3 408.5ZM244.4 418.5 246.7 418.5 245.5 418.5 244.6 419.5 242.5 419.6 236.5 422.5 231.5 423.9 203.1 435.5 181.5 438.2 169.5 442.9 155.5 447.2 133.5 448.2 130.5 448.3 130.5 438.1 154.5 437.4 179.5 431.7 203.5 429.8 218.5 426.1Z"/>
<path fill="#ff8f00" d="M896.6 57.5 993.5 57.5 993.5 60.4 968.5 60.3ZM701.2 142.5 722.5 141.7 747.5 142.4 770.5 146.3 785.1 151.5 794.8 157.5 796.5 164.1 802.5 169.2 810.5 172.1 821.5 173.9 832.1 177.5 833.4 178.5 837 197.5 839.5 201.4 843.5 205.3 852.1 211.5 860.2 218.5 870.5 223 895.5 216.5 944.5 213.6 993.5 209.1 993.5 246 969.5 247 944.5 252.5 933.6 258.5 884.5 278.5 873.9 287.5 870.5 289.8 845.5 291.4 812.2 278.5 796.5 265.7 792.7 271.5 789.5 278.5 778.1 284.5 769.5 288.1 754.5 292.8 739.5 296.8 722.5 300.2 697.5 295.8 673.5 285.1 662.6 278.5 648.5 265.8 632.6 258.5 623.5 243.6 605.1 198.5 605 177.5 607.2 167.5 610.5 159.5 613 157.5 675.5 145.7ZM771.5 212.3 765.4 218.5 770 238.5 771.5 239.7 774.5 239.2 776.3 238.5 776.9 237.5 781.5 218.5 773.5 212.9ZM451 205.5 475.5 205 498.5 207.1 510.5 211 515.5 214 519.5 217.5 530 238.5 532.6 250.5 536.7 258.5 536.7 278.5 531.8 281.5 525.5 284.2 516.5 284.4 500.5 284.4 451.5 281.1 442.7 274.5 436.9 268.5 430.2 258.5 431.1 238.5 440.2 218.5ZM304.7 408.5 307.5 408.2 314.5 409.2 327.5 413.2 352.5 414.4 401.5 424.6 465.5 431 500.5 437.6 585.5 440 605.5 442.8 619.5 446.4 628.5 450.4 643.5 450.1 652.5 448.1 673.5 447.3 720.5 447.1 771.5 445.7 796.5 442.4 821.5 441.3 870.5 435.3 893.5 435.3 905.5 439.4 916.5 445.7 928.5 447.1 945.5 447.9 955.5 444.2 967.5 443.2 987.5 446.1 993.5 447.8 993.5 452.9 955.5 452.1 944.5 450.7 892.5 449.1 869.5 449.3 776.5 453.1 720.5 454 652.5 452.6 643.5 451.6 628.5 451.5 619.5 453.7 604.5 453.2 499.5 446.1 463.5 437.2 437.5 433.3 399.5 428.9 352.5 419.1 327.5 418ZM231.4 423.5 231.5 423.5ZM227.3 424.5 230.5 423.9 230.5 424.5 228.5 424.6 225.6 426.5 223.5 426.7 220.6 428.5 218.5 428.8 215.7 430.5 202.4 435.5 180.5 438.3 169.5 442.8 155.5 447.1 134.5 448.1 130.5 448.2 130.5 438.5 154.5 437.9 179.5 432.7 203.5 431.5Z"/>
<path fill="#ff7000" d="M708.4 144.5 722.5 143.7 746.5 144.2 754.5 145.3 766.5 147.8 775.5 150.6 785.5 155.2 789.2 157.5 789.5 158.5 788.1 167.5 785.5 173 781.5 175.9 772.5 178.5 769.3 193.5 764.4 202.5 757.5 209.6 747.5 215.4 745.7 218.5 746.5 231.1 748 238.5 760.5 247.1 772.7 258.5 772.3 278.5 739.5 290.8 724.5 294.8 721.5 295 697.5 290.8 670.3 278.5 659.7 267.5 648 258.5 625.1 221.5 615.2 197.5 615.4 177.5 618.5 171.5 622.2 166.5 631.6 158.5 633.7 157.5 685.5 147.3ZM795.7 197.5 796.5 196.9 820.5 196.9 821.6 198.5 822.6 215.5 823.5 218.5 824.5 219.4 830.5 220.8 845.5 221.3 870.5 231.4 882.5 226.8 895.5 223.1 920.5 225.3 934.5 223 939.5 221 942.9 218.5 948.7 217.5 969.5 215 993.5 214.1 993.5 238.6 973.5 238.6 954.1 240.5 939.5 243.5 925.5 249.5 913.5 258.5 884 269.5 870.5 275.6 845.5 278.8 832.4 270.5 820.4 258.5 820.1 217.5 819.2 208.5 817.5 203.8 815.5 201.8 812.6 200.5 796.5 198.9ZM472 210.5 475.5 210 486.5 212.2 493.7 214.5 499.7 217.5 504.4 221.5 508.8 226.5 515.8 238.5 512.2 247.5 506.9 254.5 500.5 259 496.8 263.5 492.9 266.5 487.5 269.1 479.5 271.4 475.5 272.2 450.5 272.6 443.5 266.3 437.3 258.5 439.7 238.5 450.4 218.5 453.5 216.1 458.5 213.7ZM307.7 409.5 314.5 409.4 327.5 413.5 352.5 414.7 401.5 424.8 465.5 431.1 500.5 437.7 585.5 440.2 604.5 442.9 619.5 446.6 627 450.5 627 451.5 625.5 452.4 619.5 453.6 604.5 453.1 499.5 446.1 463.5 437.1 437.5 433.1 399.5 428.9 352.5 419 327.5 417.9ZM183.6 433.5 201.5 433.1 204.8 433.5 204.8 434.5 202.5 434.6 201.7 435.5 180.5 438 163.8 444.5 155.5 447 150.5 447.3 130.5 448.2 130.5 439 154.5 438.5ZM881.1 435.5 893.5 435.6 905.5 439.7 916.5 446.1 927.2 447.5 927.2 449.5 870.5 449.2 776.5 453 720.5 453.9 691.5 453.4 653.2 452.5 643.5 451.5 643.5 450.5 652.5 448.3 771.5 446 796.5 442.7 821.5 441.5 869.5 435.7ZM955.8 444.5 968.5 443.5 984.5 445.7 990.5 447.3 993.5 448.2 993.5 452.8 984.5 452.8 954.5 451.9 945.5 450.5 945.5 448.5Z"/>
<path fill="#ff5000" d="M711.4 146.5 722.5 145.6 747.5 146 760.5 148.6 771.5 151.8 781.5 156.3 783.7 157.5 783.8 158.5 779.5 166.3 771.5 172.3 770.7 173.5 768.5 177.5 765.5 187.5 762.7 192.5 752.5 202.5 747.5 206.3 740.9 218.5 739.5 229.5 737.2 238.5 746.5 249.9 756.8 258.5 753.1 278.5 735.5 286.4 722.5 290.5 697.5 285.7 680.7 278.5 658.4 258.5 653.9 249.5 648.5 235.5 636.4 218.5 633.5 206.2 629 197.5 629 178.5 641.5 169.2 651.6 158.5 653.7 157.5 672.5 154.1 690.4 149.5ZM473.8 215.5 476.5 215.3 485.7 218.5 495.3 227.5 503.8 238.5 495.5 249 487.5 256.7 479.5 262 475.5 263.8 473.5 263.9 451.5 265.5 449.5 264.2 444.3 258.5 448.2 238.5 451.5 232.7 457.8 225.5 465.5 218.5ZM895 229.5 908.5 233.1 913.5 235.6 917.1 238.5 910.5 245.1 903.5 250.8 895.5 256.2 870.5 265.1 848.5 263.6 845.5 263 840 258.5 836.2 238.5 839.5 235.3 844.2 232.5 846.5 232 865.4 238.5 870.5 242.7 873.2 238.5 874.9 237.5 884.5 233.2ZM310.7 409.5 315.5 410 327.5 413.7 352.5 414.9 400.5 424.9 465.5 431.3 499.5 437.7 585.5 440.5 604.5 443.1 619.5 446.9 625.1 449.5 625.8 451.5 625 452.5 619.5 453.5 602.5 452.9 499.5 446 464.5 437.2 438.5 433.1 399.5 428.8 353.5 419 327.5 417.8 314.5 411.7 312.7 411.5 310.7 410.5ZM186.5 434.5 194.2 434.5 193.6 436.5 180.5 437.8 169.9 442.5 155.5 447 137.5 447.9 130.5 448.1 130.5 439.4 154.5 439.1 179.5 434.8ZM864.9 436.5 870.5 435.9 893.5 435.8 905.5 440 917.5 447.1 920.9 447.5 920.9 449.5 869.5 449.1 777.5 452.9 703.5 453.6 655.9 452.5 646.4 451.5 646.4 450.5 648.3 449.5 652.5 448.7 673.5 447.8 720.5 447.7 771.5 446.2 796.5 443 821.5 441.8ZM959.3 444.5 968.5 443.8 984.5 446 993.2 448.5 993.5 452.6 982.5 452.6 950.1 451.5 947.4 450.5 947.4 448.5 948.3 447.5 954.5 445.1Z"/>
<path fill="#ff3000" d="M722.2 147.5 748.5 148 768.5 153.3 778.1 157.5 778.1 158.5 769.1 169.5 761.9 184.5 758.7 189.5 754.5 193.6 746.7 198.5 736 218.5 731.7 231.5 726.9 238.5 734.5 249.4 742.3 258.5 739.5 278.5 726.5 284.5 722.5 285.9 720.5 285.5 698.5 281 692.6 278.5 684.5 271.2 668.7 258.5 662.5 248.8 654.3 232.5 650.5 223.6 648.8 217.5 650.6 204.5 655.4 184.5 657.5 180.5 667.8 168.5 674.2 157.5 684.5 154 695.5 151.4ZM475.1 222.5 476.5 222.8 483.4 228.5 492.5 238.5 485.2 246.5 476.5 253.9 475.5 254.6 468.5 253.7 462.5 251.2 459.8 246.5 458.6 238.5 465.7 230.5ZM893.1 236.5 895.5 235.7 901.7 238.5 896.9 242.5 895.5 243.5 894.5 243.3 888.8 238.5ZM313.7 410.5 316.3 410.5 327.5 413.9 352.5 415.1 401.5 425.2 465.5 431.5 499.5 437.9 585.5 440.7 604.5 443.4 619.5 447.1 624.5 449.5 624.5 452.5 619.5 453.4 602.5 452.9 499.5 445.9 464.5 437 438.5 433 399.5 428.7 353.5 418.9 327.5 417.7 313.7 411.5ZM174.6 436.5 182.5 436 184.3 436.5 184.3 437.5 180.5 437.6 169.5 442.6 155.5 446.9 139.5 447.7 130.5 448 130.5 439.8 154.5 439.6ZM867.2 436.5 893.5 436.1 904.5 439.9 912.6 444.5 915.6 446.5 915.9 449.5 869.5 449 777.5 452.8 720.5 453.8 700.5 453.4 658.4 452.5 648.9 451.5 649.4 449.5 652.5 449 673.5 448 720.5 447.9 771.5 446.5 796.5 443.3 821.5 442.1ZM962.8 444.5 969.5 444.3 984.5 446.4 992 448.5 993 449.5 993 452.5 980.5 452.4 954.5 451.8 951.1 451.5 948.8 450.5 949.5 447.4 955.5 445.1Z"/>
<path fill="#ff1000" d="M721.5 149.5 747.5 149.6 761.5 153.3 772.6 157.5 772.4 158.5 765.5 168.2 759.7 180.5 756.5 185.5 752.9 189.5 746.1 194.5 742.3 198.5 725.8 229.5 722.5 233.5 715.7 238.5 718.9 244.5 729.5 258.5 728.5 278.5 722.5 281.2 719.5 280.6 710.3 278.5 705.4 274.5 697.5 271.2 673.5 251.5 660.5 231.4 654.3 218.5 656.3 210.5 659.6 202.5 666.4 191.5 673.5 184.1 675.7 178.5 678.9 166.5 682.7 158.5 686.5 156.7 699.5 153.2ZM474.6 233.5 475.5 232.7 476.5 233.4 481.5 238.5 476.2 243.5 475.5 244 474.5 243.3 469.7 238.5ZM317.9 411.5 326.5 414 352.5 415.3 401.5 425.4 464 431.5 499.5 438 585.5 441 604.5 443.6 619.5 447.4 623.3 449.5 623.3 452.5 619.5 453.1 602.5 452.8 584.5 451.1 499.5 445.8 465.5 437 439.5 432.9 399.5 428.6 354.5 418.9 327.5 417.6 318.5 413.5ZM869.5 436.5 893.5 436.4 904.5 440.2 911.9 444.5 912.9 445.5 912.9 449.5 869.5 448.9 777.5 452.7 720.5 453.7 697.5 453.1 661 452.5 651.4 451.5 651.5 449.5 673.5 448.2 720.5 448.2 771.5 446.8 796.5 443.6 821.5 442.4ZM174 437.5 177.6 437.5 177.6 438.5 176.6 439.5 169.5 442.5 155.5 446.8 134.5 447.8 130.5 447.9 130.5 440.3 154.5 440.2ZM966.3 444.5 983.1 446.5 990.1 448.5 990.1 452.5 975.5 452 954.5 451.7 952 451.5 950.2 450.5 950.2 447.5 954.5 445.7Z"/>
<path fill="#ef0000" d="M721 151.5 747.5 151.5 762.5 155.8 766.8 157.5 766.8 158.5 761.9 166.5 755.5 180.8 750.7 186.5 743.1 192.5 738.5 197.5 722.5 225.1 703.8 238.5 702.9 248.5 701.6 254.5 699.2 258.5 697.5 258.6 693.5 251 688.5 245.7 682.5 242 672.5 238 664.5 227.2 659.9 218.5 660 217.5 665.3 206.5 673.5 196.9 677.7 187.5 683.7 170.5 687 164.5 690.5 160 692.5 158.2 695.5 157 707.5 153.9ZM322.9 413.5 334.5 414.9 352.3 415.5 401.5 426 462.3 431.5 500.5 438.3 549.8 439.5 585.5 441.2 604.5 443.8 618.9 447.5 621.5 448.5 622 452.5 602.5 452.7 584.5 451 499.5 445.8 465.5 436.8 441.5 433.5 440.5 432.8 433.5 432.5 431.5 431.7 424.5 431.5 422.5 430.7 399.5 428.6 398.5 427.8 394.5 427.5 393.5 426.7 375.5 423.6 374.5 422.8 370.5 422.5 369.5 421.7 365.8 421.5 354.5 418.7 343.5 417.7 327.5 417.6 322.9 415.5ZM863.5 437.5 870.5 436.7 893.5 436.7 904.4 440.5 909.6 443.5 909.9 449.5 901.5 448.8 868.5 448.8 777.5 452.7 720.5 453.6 708.5 453.2 663.5 452.5 659.1 451.5 659.1 449.5 673.5 448.4 720.5 448.4 771.5 447.1 796.5 443.9 821.5 442.6ZM164.8 439.5 172.5 438.9 173.4 439.5 173.4 440.5 156.4 446.5 138.5 447.6 130.5 447.8 130.5 440.7 154.5 440.8ZM958.1 445.5 968.5 444.7 985.5 447.3 987.3 448.5 987.3 452.5 982.5 452 952.9 451.5 951.6 450.5 951.6 447.5 954.5 446Z"/>
<path fill="#cf0000" d="M720.7 153.5 747.5 153.3 761 157.5 761.2 158.5 756.9 167.5 753.7 177.5 751.7 180.5 747.5 184.9 741.5 188.7 736.6 193.5 722.5 216.9 702.5 231.9 697.5 234.9 673.5 230.3 667.7 222.5 665.4 218.5 665.6 217.5 670.4 209.5 679.4 198.5 682.7 189.5 686.1 177.5 689.5 170.9 693.4 165.5 697.5 161.4 702.8 157.5ZM445.6 430.5 451.5 430.5 452.5 431.2 467.5 432.4 500.5 438.4 585.5 441.4 604.5 444.1 617.9 447.5 620.7 448.5 620.8 452.5 602.5 452.7 585.5 450.9 524.5 447.6 499.5 445.7 471.1 438.5 470.5 437.9 467.2 437.5 466.5 436.8 455.2 435.5 453.5 434.6 448.5 434.5 447.5 433.5 445.6 433.5ZM865.8 437.5 893.5 437 905.8 441.5 906.9 442.5 906.5 448.5 862.5 448.9 777.5 452.6 720.5 453.6 710.5 453 668.3 452.5 668.3 449.5 673.5 448.9 720.5 448.9 771.5 447.3 796.5 444.1 821.5 442.9ZM162.3 440.5 168.9 440.5 168.5 442.5 166.5 442.6 165.7 443.5 163.5 443.7 156.1 446.5 137.5 447.6 130.5 447.7 130.5 441.1 154.5 441.4ZM961.6 445.5 968.5 445 983.9 447.5 983.9 451.5 975.5 451.7 953.8 451.5 953 450.5 953 447.5 953.9 446.5Z"/>
<path fill="#b00000" d="M720.4 155.5 746.5 155 755.3 157.5 755.6 158.5 752.7 166.5 749.4 178.5 747.5 180.7 740.5 183.9 735.5 187.8 731.9 192.5 722.5 209.4 715.8 213.5 710.8 218.5 703.5 224 697.5 227.8 673.5 221.9 670.9 218.5 671.2 217.5 673.5 214.4 680.1 209.5 683.7 204.5 687.1 195.5 691.1 177.5 695.5 170.8 697.5 168.5 705.2 163.5 711.5 157.5ZM473.9 434.5 477.8 434.5 479.5 435.3 483.5 435.5 484.5 436.2 502.5 438.9 558.5 440.2 589.5 442.2 604.5 444.3 616.5 447.5 616.5 452.5 602.5 452.6 586.5 450.8 541.5 448.6 499.5 445.6 490.5 442.8 487.2 442.5 486.5 441.7 483.3 441.5 482.5 440.7 479.4 440.5 478.5 439.6 475.5 439.5 473.9 438.5ZM868.1 437.5 893.5 437.2 902.5 440.5 902.7 448.5 859.5 448.8 802.5 451.6 781.5 451.8 777.5 452.5 744.5 452.6 723.5 452.7 720.2 453.5 717.5 452.6 709.7 452.5 709.7 449.5 771.5 448 796.5 444.4 824.5 442.9ZM159.3 441.5 162.7 441.5 162.7 443.5 161.7 444.5 159.5 444.7 155.5 446.6 134.5 447.6 130.5 447.6 130.5 441.6 154.5 442ZM965 445.5 968.5 445.3 976.6 446.5 977.7 447.5 977.7 451.5 967.5 451.6 954.7 451.5 954.8 446.5Z"/>
<path fill="#900000" d="M720.2 157.5 746.5 156.8 749.5 157.5 750 158.5 747.5 169.5 746.5 172.1 742.5 177.5 734.5 181 729.6 185.5 727 190.5 724.6 198.5 722.5 202 712.5 205.1 706.5 209.3 704 212.5 701.1 218.5 698.5 220.4 697.5 220.8 688.9 218.5 688.4 217.5 690.5 213.8 691.9 208.5 695.8 178.5 697.5 175.6 706.5 172 711.8 168.5 715.5 164.5 718.8 158.5ZM875.5 437.5 892.5 437.4 895.8 438.5 896.4 439.5 896.4 448.5 856.5 448.7 851 449.5 810.5 450.6 803.5 450.8 802.2 451.5 789.9 451.5 789.9 446.5 790.5 445.5 800 444.5 819.5 443.9 862.5 438.4ZM495.2 438.5 498.7 438.5 500.5 439.3 559.5 440.4 589.5 442.5 598.5 444.2 603.9 444.5 607.1 445.5 607.1 452.5 602.4 452.5 600.5 451.6 590.5 451.5 588.5 450.7 558.1 449.5 555.5 448.7 541.5 448.5 538.5 447.7 524.5 447.5 522.5 446.7 499.5 445.5 498.5 444.6 495.5 444.5ZM130.5 442.5 155.5 442.6 156.4 443.5 156.4 445.5 155.5 446.5 139.5 446.7 135.8 447.5 130.5 447.5ZM961.6 446.5 967.5 445.9 971.4 446.5 971.4 451.5 961.6 451.5Z"/>
</g>
<g fill="none" stroke="#000" stroke-width="1.3" stroke-linejoin="round">
<path d="M130 93.6 150.9 93 227.7 93.3 297.5 97.1 339.4 112.8 374.3 119.8 418 120.9 452.9 119.8 477.3 120.5 500 131 557.6 128.6 613.5 125.1 690.3 126.8 697.2 139 706 142.5 709.5 141M706 142.5 676.3 146 662.3 153 655.3 161.7 658.8 182.7 672.8 203.6 681.5 221 676.3 242 655.3 240.2 627.4 243.7 599.5 258 575.1 270.2 550.6 280.7 540.2 291.2 540.2 313.8 550.6 340 559.4 362.7 561.1 383.7 548.9 397.6 524.5 409.8 514 397.6 508.3 381 475 354 450 324.8 420.8 304 418 303.4 418 301.6 374.3 282.4 351.6 272.7 327.2 272.7M327.2 272.7 311.5 292.9 302.8 312.1 311.5 336.5 301 366.2 280.1 369.7 227.7 380.9 210.3 392.4 175.4 420.3 175.4 432.5 180.6 441.2M396 103.5 413.2 107.2 486.6 110.4M501.8 112.1 522.7 112.1 550.6 119.8 592.5 120.5 627.4 119.8 662.3 120.5 706 121.6 747.9 126.8 765.3 134.5 791.5 143.6 751.4 151.2 723.5 161.7 706 168 693.7 172.2 692 182.7 697.2 196.6 706 203.6 720 209.6M736 212.3 772.3 220.3 775.8 231.5 775 250 770 262 768.8 266.7 789.8 273.7 824.7 278.2 845.6 277.2 880.5 266.7 887.5 258 896.2 243.7 882.3 224.5 884 207.1 901.5 196.6 922.4 187.9 943.3 170.4 967.8 161.7 975 159.5M396 103.5 442.6 92.5 498.8 93 557.6 95.4 592.5 100.6 627.4 103.4 662.3 102.4 706 101.3 772.3 102.4 817.7 102.4 845.6 101.7 819.4 89.1 807.2 89.1M793.3 86.7 772.3 81.4 740.9 64 706 61.2 662.3 60.5 634.4 58.7 620 57.5M989 158.9 994 158.9M966 132 972 134.5M988 134.5 994 134.5M966 132 972 130M130 112.8 182.4 107.6 241.7 110.1 253.9 128.6 248.7 147.1 276.6 136.6 304.5 138 329 142.5 351.6 168 374.3 158.2 412 153.5M433 151.2 477.3 150.5 515.7 154.7 550.6 158.2 592.5 160 599.5 161.7 599.5 179.2 592.5 193.1 596 224.5 571.6 235 550.6 242 519.2 243.7 503.5 258 501.8 258 477.3 273.7 449.4 280.7 434 279M418 273.7 391.8 265 377.8 258 374.3 256 351.6 228 297.5 227.3 253.9 231.5 222.5 226.3 220.6 243.3 232.8 260.4 243.8 277.5 246.9 298.1 203.3 332 161.4 335.5M140 336.5 130 338.3M152.7 158.9 184.1 155.8M130 168.7 164.9 169.4 203.3 170.4 227.7 155.8 280.1 158.2 290.6 170.4 285.3 180.9 302.8 203.6 278.3 216.9 253.9 215.8 220.7 208.8 203.3 210.6 189.3 221 188.7 237.2 186.3 251.8 180.2 265.3 167.9 276.3 154.4 296.4 130 301.6M130 182.7 203.3 182.7 203.3 194.9 157.9 215.8 145.7 228 143 236M137 247 130 249.5M206.8 193.1 229.5 180.9 234.7 186.1 206.8 193.1M418 165.9 395.3 168.7 374.3 179.2 363.9 194.9 367.3 214.1 377.8 235 395.3 245.5 418 250.7 452.9 245.5 459.9 238.5 491.3 224.5 522.7 210.6 533.2 194.9 529.7 179.2 477.3 165.2 418 165.2M389 185 394 177 420 173 452.9 175 473.8 178.5 484.3 191.4 482.6 207.1 452.9 217.6 418 223.8 398 218 391 205 389 198M545.4 79 554.1 79M690 243.7 697 243.7M706 140.8 709.5 140.8M611.7 131 632.7 131 622.2 133.8 611.7 131M994 185.4 971.3 189 950.3 208.8 969.5 214.1 994 210.6M994 247.2 978 258 974.8 258 957.3 268.5 943.3 283.1 918.9 291.9 969.5 303.4 994 296.4M684 310.4 706 310.4 706 309.7 747.9 306.2 765.3 312.1 795 324.3 803.7 342.5 768.8 349.4 747.9 350.5 720 349.4 706 347 706 345.3 672.8 340 648.4 347 622.2 341.8 648.4 312.1 662.3 310.4 673 310.4M302.8 411.6 302.8 404 318.5 390 330.7 387.8 349.9 392.4 362.1 388.9 365.6 376.7 363.9 359.2 376.1 348 395.3 352.2 418 356.8 418 357.5 425 357.5 442.4 369.7 447.7 387.1 444.2 401.1 432 411.6 418 413.3 418 411.6 395.3 402.9 377.8 400.4 360.4 406.3 351.6 411.6M351.6 411.6 374.3 418.6 402.2 429 418 429 449.4 429.7 474 436 474 441.2M474 436 500 440 530 444 550.6 444.5 550.6 450M241.7 359.2 252.2 355 259.1 356.4 252.2 359.9 241.7 359.2M130 425.5 137 427.3 138.7 437.8 144 443 145.7 450M241.7 414 245.2 401.1 252.2 395.9 269.6 394.1 288.8 395.9 295.8 401.1 299.3 411.6M487.8 420.3 500 415 522.7 416.8 538.4 429 576.8 437.8 569.8 441.2 533.2 442.3 498.3 434.3 487.8 420.3M627.4 442 627.4 439.5 648.4 434.3 662.3 437.8 665.8 448.2 667.6 453M624 448 624 453M800.2 430.8 807.2 418.6 824.7 408.8 866.6 399.4 877 401.1 887.5 415.8 875.3 428.3 821.2 431.8 800.2 430.8"/>
<circle cx="241.7" cy="416.8" r="2.6"/>
<circle cx="302.8" cy="409" r="2.6"/>
<circle cx="624" cy="445.5" r="2.6"/>
<path d="M786.3 117 835.1 118.1M842.6 174.7 847.8 166 858.2 161.6 872.1 159.9 896.4 158.2 905.1 164.2 901.6 169.4 889.4 178.1 879 181.6 861.7 183.3 842.6 179.9 842.6 174.7M931.1 119.1 950.3 116.3M960.8 113.9 994 113.9M966 120.9 973 120.9M987 122.3 994 122.3" stroke-dasharray="1.6 4" stroke-width="1.1"/>
</g>
<g class="cl"><text x="494.2" y="114.5" text-anchor="middle" font-size="11">0</text><text x="422.5" y="155.5" text-anchor="middle" font-size="11">10</text><text x="800.2" y="91" text-anchor="middle" font-size="11">0</text><text x="146" y="246.5" text-anchor="middle" font-size="11" transform="rotate(-25 146 246.5)">20</text><text x="389" y="195.5" text-anchor="middle" font-size="11" transform="rotate(-62 389 195.5)">20</text><text x="150.7" y="339.5" text-anchor="middle" font-size="11">10</text><text x="426.5" y="280" text-anchor="middle" font-size="11">10</text><text x="678.5" y="314" text-anchor="middle" font-size="11">0</text><text x="728" y="214.5" text-anchor="middle" font-size="11">0</text><text x="980.5" y="138" text-anchor="middle" font-size="11">0</text><text x="982" y="162.5" text-anchor="middle" font-size="11">0</text></g>
<rect x="128" y="57" width="3" height="394" fill="#000"/>
<g fill="none" stroke="#fff" stroke-width="1.2">
<path d="M130 57.5H994.5V460.5H130.5V451"/>
<path d="M130 500.5H995"/>
</g>
<rect x="130" y="501" width="868" height="6" fill="url(#cb)"/>
<text x="303.0" y="49.7" font-size="16" text-anchor="start" stroke-width="0.45" textLength="66.3" lengthAdjust="spacingAndGlyphs">OXPROD</text><text x="377.9" y="49.7" font-size="16" text-anchor="start" stroke-width="0.45" textLength="97.9" lengthAdjust="spacingAndGlyphs">Longitudinal</text><text x="483.9" y="49.7" font-size="16" text-anchor="start" stroke-width="0.45" textLength="83.7" lengthAdjust="spacingAndGlyphs">X–Section</text><text x="577.2" y="49.7" font-size="16" text-anchor="start" stroke-width="0.45" textLength="39.3" lengthAdjust="spacingAndGlyphs">30hr</text><text x="631.8" y="49.7" font-size="16" text-anchor="start" stroke-width="0.45" textLength="18.4" lengthAdjust="spacingAndGlyphs">Fx</text><text x="657.2" y="49.7" font-size="16" text-anchor="start" stroke-width="0.45" textLength="38.4" lengthAdjust="spacingAndGlyphs">Valid</text><text x="705.7" y="49.7" font-size="16" text-anchor="start" stroke-width="0.45" textLength="31.4" lengthAdjust="spacingAndGlyphs">18Z</text><text x="744.6" y="49.7" font-size="16" text-anchor="start" stroke-width="0.45" textLength="83.2" lengthAdjust="spacingAndGlyphs">20250725</text><text x="125.3" y="65.8" font-size="13.5" text-anchor="end" stroke-width="0.28" textLength="14.6" lengthAdjust="spacingAndGlyphs">20</text><text x="125.3" y="162.9" font-size="13.5" text-anchor="end" stroke-width="0.28" textLength="14.6" lengthAdjust="spacingAndGlyphs">15</text><text x="125.3" y="263.4" font-size="13.5" text-anchor="end" stroke-width="0.28" textLength="14.6" lengthAdjust="spacingAndGlyphs">10</text><text x="125.3" y="365" font-size="13.5" text-anchor="end" stroke-width="0.28" textLength="7.3" lengthAdjust="spacingAndGlyphs">5</text><text x="125.3" y="460.8" font-size="13.5" text-anchor="end" stroke-width="0.28" textLength="7.3" lengthAdjust="spacingAndGlyphs">0</text><text x="113.0" y="478.7" font-size="13.5" text-anchor="start" stroke-width="0.28" textLength="34" lengthAdjust="spacingAndGlyphs">−115</text><text x="236.4" y="478.7" font-size="13.5" text-anchor="start" stroke-width="0.28" textLength="34" lengthAdjust="spacingAndGlyphs">−110</text><text x="359.9" y="478.7" font-size="13.5" text-anchor="start" stroke-width="0.28" textLength="34" lengthAdjust="spacingAndGlyphs">−105</text><text x="483.3" y="478.7" font-size="13.5" text-anchor="start" stroke-width="0.28" textLength="34" lengthAdjust="spacingAndGlyphs">−100</text><text x="610.7" y="478.7" font-size="13.5" text-anchor="start" stroke-width="0.28" textLength="26" lengthAdjust="spacingAndGlyphs">−95</text><text x="734.1" y="478.7" font-size="13.5" text-anchor="start" stroke-width="0.28" textLength="26" lengthAdjust="spacingAndGlyphs">−90</text><text x="857.6" y="478.7" font-size="13.5" text-anchor="start" stroke-width="0.28" textLength="26" lengthAdjust="spacingAndGlyphs">−85</text><text x="981.0" y="478.7" font-size="13.5" text-anchor="start" stroke-width="0.28" textLength="26" lengthAdjust="spacingAndGlyphs">−80</text><text x="530.8" y="493.3" font-size="12" text-anchor="start" stroke-width="0.28" textLength="61.2" lengthAdjust="spacingAndGlyphs">Longitude</text><text x="113.8" y="524.8" font-size="13.5" text-anchor="start" stroke-width="0.28" textLength="32" lengthAdjust="spacingAndGlyphs">−1.0</text><text x="330.0" y="524.8" font-size="13.5" text-anchor="start" stroke-width="0.28" textLength="32" lengthAdjust="spacingAndGlyphs">−0.5</text><text x="551.9" y="524.8" font-size="13.5" text-anchor="start" stroke-width="0.28" textLength="19.3" lengthAdjust="spacingAndGlyphs">0.0</text><text x="768.4" y="524.8" font-size="13.5" text-anchor="start" stroke-width="0.28" textLength="19.3" lengthAdjust="spacingAndGlyphs">0.5</text><text x="984.8" y="524.8" font-size="13.5" text-anchor="start" stroke-width="0.28" textLength="18.4" lengthAdjust="spacingAndGlyphs">1.0</text><text x="529.9" y="540.1" font-size="14" text-anchor="start" stroke-width="0.28" textLength="63.6" lengthAdjust="spacingAndGlyphs">(ppbv/hr)</text><text x="141.0" y="561.7" font-size="20.5" text-anchor="start" stroke-width="0.45" textLength="22.0" lengthAdjust="spacingAndGlyphs">LA</text><text x="172.1" y="561.7" font-size="20.5" text-anchor="start" stroke-width="0.45" textLength="62.9" lengthAdjust="spacingAndGlyphs">(34°N)</text><text x="247.0" y="561.7" font-size="20.5" text-anchor="start" stroke-width="0.45" textLength="89.1" lengthAdjust="spacingAndGlyphs">Initialized</text><text x="349.6" y="561.7" font-size="20.5" text-anchor="start" stroke-width="0.45" textLength="35.5" lengthAdjust="spacingAndGlyphs">12Z</text><text x="395.9" y="561.7" font-size="20.5" text-anchor="start" stroke-width="0.45" textLength="100.8" lengthAdjust="spacingAndGlyphs">20250724</text><text x="0" y="0" font-size="14" stroke-width="0.3" transform="translate(98.8 301.2) rotate(-90)" textLength="84" lengthAdjust="spacingAndGlyphs">Altitude (km)</text>
</svg>
</body></html>
